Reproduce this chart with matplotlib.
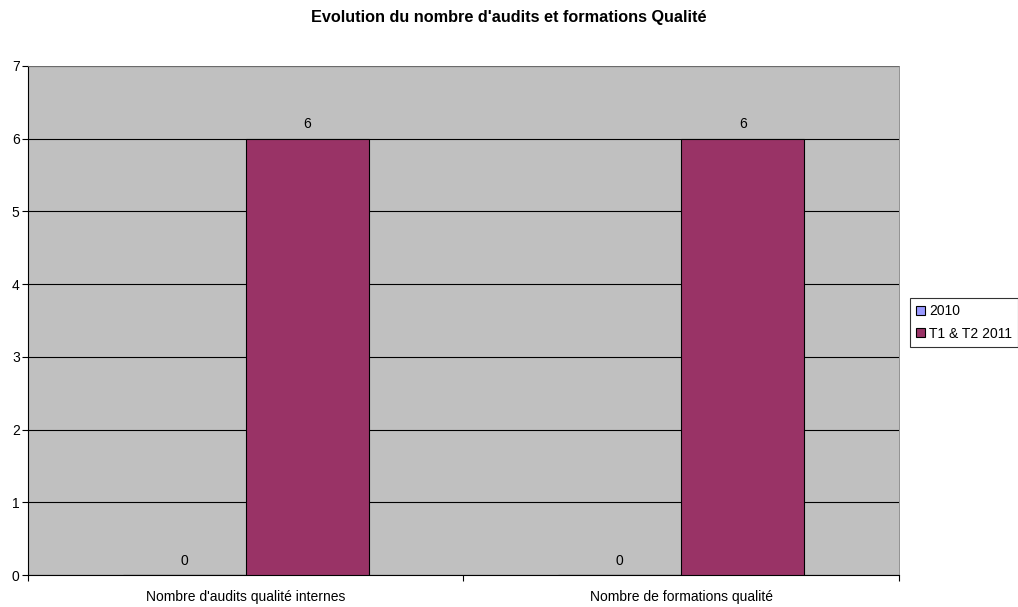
import numpy as np
import matplotlib
matplotlib.use('Agg')
import matplotlib.pyplot as plt
from matplotlib.patches import Patch

plt.rcParams['font.family'] = ['Liberation Sans', 'DejaVu Sans']

categories = ["Nombre d'audits qualité internes", "Nombre de formations qualité"]
series_names = ['2010', 'T1 & T2 2011']
values_2010 = [0, 0]
values_2011 = [6, 6]
colors = ['#9999FF', '#993366']

fig = plt.figure(figsize=(10.18, 6.07), dpi=100)
ax = fig.add_axes([0.0275, 0.0527, 0.8556, 0.8386])
ax.set_facecolor('#C0C0C0')

x = np.arange(len(categories))
w = 0.282
b1 = ax.bar(x - w/2, values_2010, w, color=colors[0], edgecolor='black', linewidth=0.8, zorder=3)
b2 = ax.bar(x + w/2, values_2011, w, color=colors[1], edgecolor='black', linewidth=0.8, zorder=3)
for bars, vals in [(b1, values_2010), (b2, values_2011)]:
    for r, v in zip(bars, vals):
        ax.text(r.get_x() + r.get_width()/2, v + 0.1, str(v), ha='center', va='bottom', fontsize=10, zorder=4)

ax.set_xlim(-0.5, 1.5)
ax.set_ylim(0, 7)
ax.set_yticks(range(0, 8))
ax.yaxis.grid(True, color='black', linewidth=0.8, zorder=1)
ax.set_axisbelow(True)
ax.set_xticks([-0.5, 0.5, 1.5])
ax.set_xticklabels(['', '', ''])
ax.set_xticks(x, minor=True)
ax.set_xticklabels(categories, minor=True, fontsize=10)
ax.tick_params(axis='x', which='minor', length=0, pad=11)
ax.tick_params(axis='x', which='major', length=4, direction='out', color='black')
ax.tick_params(axis='y', length=4, direction='out', labelsize=10, pad=2)
for s in ['top', 'right']:
    ax.spines[s].set_color('#808080')
    ax.spines[s].set_linewidth(0.6)
ax.spines['left'].set_color('black')
ax.spines['bottom'].set_color('black')

fig.text(0.5, 0.971, "Evolution du nombre d'audits et formations Qualité", ha='center', va='center',
         fontsize=11.7, fontweight='bold')

handles = [Patch(facecolor=c, edgecolor='black', linewidth=0.8) for c in colors]
leg = fig.legend(handles, series_names, loc='upper left', bbox_to_anchor=(0.894, 0.509),
                 fontsize=10, frameon=True, fancybox=False, handlelength=0.6, handleheight=0.6,
                 handletextpad=0.3, borderpad=0.45, labelspacing=0.6, borderaxespad=0)
leg.get_frame().set_edgecolor('black')
leg.get_frame().set_linewidth(0.8)

fig.savefig('out.png', dpi=100)
